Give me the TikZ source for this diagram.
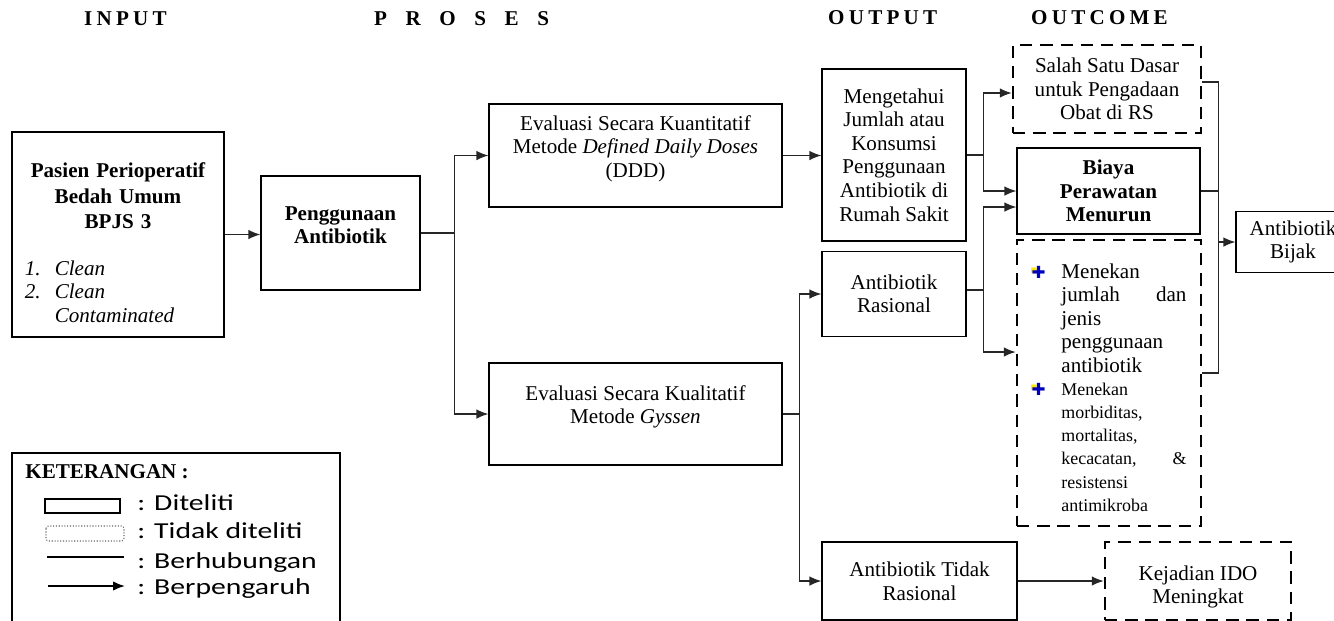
\documentclass[tikz,border=0pt]{standalone}
\usepackage{fontspec}
\setmainfont{Liberation Serif}
\newfontfamily\legendfont[FakeStretch=1.3]{Carlito}
\newfontfamily\symbolfont{DejaVu Sans}
\usetikzlibrary{arrows.meta,calc}
\newcommand{\plusbullet}{{\symbolfont\fontsize{9.5}{9.5}\selectfont
  \makebox[0pt][l]{\hspace*{-0.5pt}\raisebox{3.2pt}{\fontsize{4}{4}\selectfont\textcolor{yellow!90!orange}{■}}}%
  \textcolor{blue!75!black}{✚}}}

\begin{document}
\begin{tikzpicture}[x=0.02cm,y=-0.02cm,>={Latex[length=6.8pt,width=5.4pt]},
    box/.style={draw,line width=0.7pt,align=center,font={\fontsize{12}{13.4}\selectfont}},
    boldbox/.style={box,font={\fontsize{12}{13.4}\selectfont\bfseries}},
    dbox/.style={box,line width=1.5pt,dash pattern=on 7pt off 4.5pt},
    link/.style={line width=0.7pt,draw=black!85},
    head/.style={anchor=base west,font={\fontsize{12}{14}\selectfont\bfseries}},
    legendtext/.style={anchor=base west,inner sep=0pt,font={\legendfont\fontsize{13}{15}\selectfont}}]
  \useasboundingbox (0,0) rectangle (1334,620);

  % headings
  \node[head] (hinput) at (78,25) {\addfontfeature{LetterSpace=20}INPUT};
  \node[head] (hproses) at (368,25) {\addfontfeature{LetterSpace=88}PROSES};
  \node[head] (houtput) at (822,24) {\addfontfeature{LetterSpace=20}OUTPUT};
  \node[head] (houtcome) at (1025,24) {\addfontfeature{LetterSpace=20}OUTCOME};

  % input and process
  \node[box,minimum width=4.24cm,minimum height=4.1cm,text width=3.9cm,align=left] (pasien) at (118,234.5) {%
    {\centering\bfseries\fontsize{12}{14.7}\selectfont\rule{0pt}{17.5pt}Pasien Perioperatif\\Bedah Umum\\BPJS 3\par}
    \vspace{13pt}
    {\itshape\hspace*{2.5pt}\makebox[17pt][l]{1.}Clean\\
    \hspace*{2.5pt}\makebox[17pt][l]{2.}Clean\\
    \hspace*{19.5pt}Contaminated\par}};
  \node[boldbox,minimum width=3.18cm,minimum height=2.28cm] (peng) at (340.5,233) {Penggunaan\\Antibiotik\rule[-9pt]{0pt}{9pt}};
  \node[box,minimum width=5.86cm,minimum height=2.06cm] (kuant) at (635.5,155.5) {Evaluasi Secara Kuantitatif\\Metode \textit{Defined Daily Doses}\\(DDD)\rule[-10.5pt]{0pt}{10.5pt}};
  \node[box,minimum width=5.86cm,minimum height=2.04cm] (kual) at (635.5,414) {Evaluasi Secara Kualitatif\\Metode \textit{Gyssen}\rule[-10.5pt]{0pt}{10.5pt}};

  % output
  \node[box,minimum width=2.88cm,minimum height=3.44cm] (meng) at (894,155) {Mengetahui\\Jumlah atau\\Konsumsi\\Penggunaan\\Antibiotik di\\Rumah Sakit};
  \node[box,minimum width=2.88cm,minimum height=1.7cm] (ras) at (894,294) {Antibiotik\\Rasional};
  \node[box,minimum width=3.9cm,minimum height=1.56cm] (tidak) at (919.5,581) {Antibiotik Tidak\\Rasional};

  % outcome
  \node[dbox,minimum width=3.76cm,minimum height=1.76cm] (salah) at (1107,89) {Salah Satu Dasar\\untuk Pengadaan\\Obat di RS};
  \node[boldbox,minimum width=3.66cm,minimum height=1.72cm] (biaya) at (1108.5,191) {Biaya\\Perawatan\\Menurun};
  \node[dbox,minimum width=3.68cm,minimum height=5.72cm,text width=3.1cm,align=justify] (menekan) at (1109,383) {%
    \hyphenpenalty=10000\exhyphenpenalty=10000\tolerance=10000
    \begin{list}{\plusbullet}{\setlength{\leftmargin}{17pt}\setlength{\labelwidth}{8pt}%
        \setlength{\labelsep}{9pt}\setlength{\itemsep}{0pt}\setlength{\topsep}{0pt}%
        \setlength{\parsep}{0pt}\setlength{\partopsep}{0pt}}
      \item Menekan jumlah dan jenis penggunaan antibiotik
      \item {\fontsize{10.2}{13.2}\selectfont Menekan morbiditas, mortalitas, kecacatan, \& resistensi antimikroba\par}
    \end{list}};
  \node[box,minimum width=2.28cm,minimum height=1.22cm] (bijak) at (1293,242) {Antibiotik\\Bijak};
  \node[dbox,minimum width=3.72cm,minimum height=1.56cm] (kejadian) at (1198,581) {\rule{0pt}{15.3pt}Kejadian IDO\\Meningkat};

  % connectors
  \draw[link,->] (pasien.east) -- (pasien.east -| peng.west);
  \draw[link] (peng.east) -- ++(34,0) coordinate (split1);
  \draw[link,->] (split1) |- (kuant.west);
  \draw[link,->] (split1) |- (kual.west);
  \draw[link,->] (kuant.east) -- (kuant.east -| meng.west);
  \draw[link] (kual.east) -- ++(17,0) coordinate (split2);
  \draw[link,->] (split2) |- (ras.west);
  \draw[link,->] (split2) |- (tidak.west);
  \draw[link] (meng.east) -- ++(17,0) coordinate (split3);
  \draw[link,->] (split3) |- ($(salah.west)+(0,4)$);
  \draw[link,->] (split3) |- (biaya.west);
  \draw[link] ($(ras.east)+(0,-4)$) -- ++(17,0) coordinate (split4);
  \draw[link,->] (split4) |- ($(biaya.west)+(0,16)$);
  \draw[link,->] (split4) |- ($(menekan.west)+(0,-31)$);
  \draw[link,->] (tidak.east) -- (kejadian.west);
  \coordinate (merge) at ($(biaya.east)+(18,0)$);
  \draw[link] ($(salah.east)+(0,-7)$) -| (merge) |- ($(menekan.east)+(0,-10)$);
  \draw[link] (biaya.east) -- (merge);
  \draw[link,->] (merge |- bijak.west) -- (bijak.west);

  % legend
  \draw[line width=0.6pt] (12,640) |- (340,453) -- (340,640);
  \node[anchor=base west,inner sep=0pt,font={\fontsize{12}{14}\selectfont\bfseries}] (keterangan) at (25,478) {KETERANGAN :};
  \draw[line width=0.8pt] (45,499) rectangle (120,513);
  \draw[line width=0.6pt,densely dotted,draw=black!60,rounded corners=1.5pt] (46,526) rectangle (124,541);
  \draw[line width=1pt] (47,557) -- (124,557);
  \draw[line width=1pt,->] (48,586) -- (125,586);
  \node[legendtext] (lditeliti) at (137,510) {: Diteliti};
  \node[legendtext] (ltidak) at (137,538) {: Tidak diteliti};
  \node[legendtext] (lhubung) at (137,568) {: Berhubungan};
  \node[legendtext] (lpengaruh) at (137,594) {: Berpengaruh};
\end{tikzpicture}
\end{document}
